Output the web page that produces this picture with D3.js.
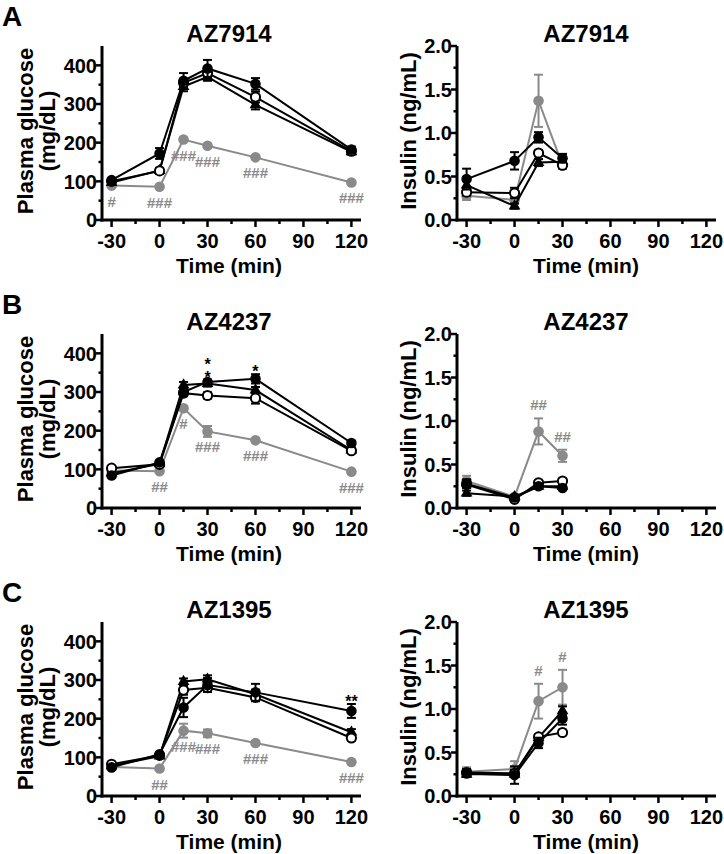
<!DOCTYPE html>
<html><head><meta charset="utf-8">
<script src="https://cdn.jsdelivr.net/npm/d3@7"></script>
<style>
body{margin:0;background:#fff}
svg{display:block}
text{font-family:"Liberation Sans",Arial,Helvetica,sans-serif;font-weight:bold;fill:#000}
</style>
</head><body><svg id="c" width="724" height="854"></svg>
<script>
// ---------- data ----------
const timesGlucose = [-30, 0, 15, 30, 60, 120];
const timesInsulin = [-30, 0, 15, 30];
const xTicks = [-30, 0, 30, 60, 90, 120];
const xMinorTicks = [-15, 15, 45, 75, 105];
const glucoseTicks = [0, 100, 200, 300, 400];
const glucoseMinorTicks = [50, 150, 250, 350];
const insulinTicks = [0, 0.5, 1.0, 1.5, 2.0];
const insulinMinorTicks = [0.25, 0.75, 1.25, 1.75];
const panelLetters = ["A", "B", "C"];
const compounds = ["AZ7914", "AZ4237", "AZ1395"];
const seriesNames = ["gray", "tri", "open", "filled"];

// glucose (mg/dL)  [A, B, C]
const glucoseFilled = [[103,172,360,392,352,182],[84,118,300,326,334,168],[74,108,229,287,268,220]];
const glucoseFilledErr = [[5,14,20,22,15,8],[5,5,10,6,12,6],[4,4,25,18,22,18]];
const glucoseOpen = [[100,127,355,380,318,178],[103,113,297,291,284,148],[82,105,274,280,255,150]];
const glucoseOpenErr = [[4,8,10,10,14,8],[4,5,8,8,14,6],[4,4,12,10,10,6]];
const glucoseTri = [[97,128,345,370,298,176],[90,114,318,322,305,150],[78,103,296,302,263,165]];
const glucoseTriErr = [[4,6,12,10,12,6],[4,4,8,8,8,6],[4,4,8,10,12,8]];
const glucoseGray = [[89,86,208,192,162,97],[97,95,258,198,175,94],[75,71,169,162,137,88]];
const glucoseGrayErr = [[3,3,5,5,4,3],[3,4,6,14,5,4],[3,3,18,10,5,3]];

// insulin (ng/mL)  [A, B, C]
const insulinFilled = [[0.47,0.68,0.95,0.71],[0.28,0.12,0.25,0.23],[0.26,0.24,0.61,0.89]];
const insulinFilledErr = [[0.12,0.10,0.06,0.05],[0.05,0.02,0.03,0.02],[0.04,0.10,0.06,0.07]];
const insulinOpen = [[0.32,0.31,0.77,0.63],[0.27,0.10,0.29,0.31],[0.27,0.26,0.68,0.73]];
const insulinOpenErr = [[0.04,0.06,0.03,0.04],[0.04,0.02,0.02,0.02],[0.04,0.04,0.03,0.03]];
const insulinTri = [[0.40,0.16,0.66,0.67],[0.17,0.13,0.25,0.25],[0.25,0.25,0.67,0.98]];
const insulinTriErr = [[0.05,0.03,0.04,0.04],[0.03,0.02,0.02,0.02],[0.03,0.03,0.03,0.05]];
const insulinGray = [[0.28,0.23,1.37,0.63],[0.31,0.13,0.88,0.60],[0.28,0.31,1.09,1.25]];
const insulinGrayErr = [[0.05,0.04,0.30,0.03],[0.06,0.02,0.15,0.07],[0.05,0.09,0.20,0.20]];

// significance annotations: [panelIndex, time, text]
const glucoseHashes = [
  [0,-30,"#"],[0,0,"###"],[0,15,"###"],[0,30,"###"],[0,60,"###"],[0,120,"###"],
  [1,0,"##"],[1,15,"#"],[1,30,"###"],[1,60,"###"],[1,120,"###"],
  [2,0,"##"],[2,15,"###"],[2,30,"###"],[2,60,"###"],[2,120,"###"]
];
// stars: [panelIndex, time, lines of stars stacked vertically]
const glucoseStars = [[1,30,["*","*"]],[1,60,["*"]],[2,120,["**"]]];
const insulinHashes = [[1,15,"##"],[1,30,"##"],[2,15,"#"],[2,30,"#"]];

// ---------- drawing ----------
const svg = d3.select("#c");
const GRAY = "#8a8a8a";
const rowBase = [220, 508, 796];
const plotH = 174;
const leftX = [102, 361], rightX = [457, 716];
const xDomain = [-36, 126];

function drawAxes(g, x, y, yTicks, yMinor, fmt) {
  const x0 = x.range()[0], x1 = x.range()[1];
  const y0 = y.range()[0], y1 = y.range()[1];
  g.append("line").attr("x1", x0-1.5).attr("x2", x1).attr("y1", y0).attr("y2", y0)
    .attr("stroke","#000").attr("stroke-width",3);
  g.append("line").attr("x1", x0).attr("x2", x0).attr("y1", y0+1.5).attr("y2", y1)
    .attr("stroke","#000").attr("stroke-width",3);
  xTicks.forEach(t => {
    g.append("line").attr("x1", x(t)).attr("x2", x(t)).attr("y1", y0).attr("y2", y0+7)
      .attr("stroke","#000").attr("stroke-width",2.5);
    g.append("text").attr("x", x(t)).attr("y", y0+28).attr("text-anchor","middle")
      .attr("font-size", 20).text(t);
  });
  xMinorTicks.forEach(t => {
    g.append("line").attr("x1", x(t)).attr("x2", x(t)).attr("y1", y0).attr("y2", y0+4)
      .attr("stroke","#000").attr("stroke-width",2.5);
  });
  yTicks.forEach(v => {
    g.append("line").attr("x1", x0-6).attr("x2", x0).attr("y1", y(v)).attr("y2", y(v))
      .attr("stroke","#000").attr("stroke-width",2.5);
    g.append("text").attr("x", x0-5).attr("y", y(v)).attr("dy","0.36em")
      .attr("text-anchor","end").attr("font-size", 20).text(fmt(v));
  });
  yMinor.forEach(v => {
    g.append("line").attr("x1", x0-3.5).attr("x2", x0).attr("y1", y(v)).attr("y2", y(v))
      .attr("stroke","#000").attr("stroke-width",2.5);
  });
}

function drawSeries(g, x, y, times, vals, errs, kind) {
  const color = kind === "gray" ? GRAY : "#000";
  const pts = times.map((t,i) => ({t, v: vals[i], e: errs[i]}));
  pts.forEach(p => {
    g.append("line").attr("x1", x(p.t)).attr("x2", x(p.t))
      .attr("y1", y(p.v - p.e)).attr("y2", y(p.v + p.e))
      .attr("stroke", color).attr("stroke-width", 2);
    [p.v - p.e, p.v + p.e].forEach(ev => {
      g.append("line").attr("x1", x(p.t)-4.5).attr("x2", x(p.t)+4.5)
        .attr("y1", y(ev)).attr("y2", y(ev)).attr("stroke", color).attr("stroke-width", 2);
    });
  });
  g.append("path").datum(pts)
    .attr("d", d3.line().x(d => x(d.t)).y(d => y(d.v)))
    .attr("fill","none").attr("stroke", color).attr("stroke-width", 2);
  pts.forEach(p => {
    if (kind === "tri") {
      g.append("path").attr("d", d3.symbol(d3.symbolTriangle, 60)())
        .attr("transform", `translate(${x(p.t)},${y(p.v)})`).attr("fill","#000");
    } else if (kind === "open") {
      g.append("circle").attr("cx", x(p.t)).attr("cy", y(p.v)).attr("r", 4.6)
        .attr("fill","#fff").attr("stroke","#000").attr("stroke-width",2);
    } else {
      g.append("circle").attr("cx", x(p.t)).attr("cy", y(p.v)).attr("r", 5.3)
        .attr("fill", color);
    }
  });
}

for (let r = 0; r < 3; r++) {
  const base = rowBase[r];
  svg.append("text").attr("x", 2).attr("y", base - 194).attr("font-size", 28).text(panelLetters[r]);

  // ----- glucose panel -----
  const gL = svg.append("g");
  const xL = d3.scaleLinear().domain(xDomain).range(leftX);
  const yL = d3.scaleLinear().domain([0, 450]).range([base, base - plotH]);
  drawAxes(gL, xL, yL, glucoseTicks, glucoseMinorTicks, d3.format("d"));
  const gSets = {
    gray: [glucoseGray[r], glucoseGrayErr[r]],
    tri: [glucoseTri[r], glucoseTriErr[r]],
    open: [glucoseOpen[r], glucoseOpenErr[r]],
    filled: [glucoseFilled[r], glucoseFilledErr[r]]
  };
  seriesNames.forEach(k => drawSeries(gL, xL, yL, timesGlucose, gSets[k][0], gSets[k][1], k));
  gL.append("text").attr("x", 229).attr("y", base - 178).attr("text-anchor","middle")
    .attr("font-size", 24).text(compounds[r]);
  gL.append("text").attr("x", 229).attr("y", base + 53).attr("text-anchor","middle")
    .attr("font-size", 21).text("Time (min)");
  const cyL = base - 89;
  gL.append("text").attr("transform", `translate(33,${cyL}) rotate(-90)`)
    .attr("text-anchor","middle").attr("font-size", 22).text("Plasma glucose");
  gL.append("text").attr("transform", `translate(55,${cyL}) rotate(-90)`)
    .attr("text-anchor","middle").attr("font-size", 22).text("(mg/dL)");

  glucoseHashes.filter(h => h[0] === r).forEach(h => {
    const i = timesGlucose.indexOf(h[1]);
    gL.append("text").attr("x", xL(h[1])).attr("y", yL(glucoseGray[r][i]) + 21)
      .attr("text-anchor","middle").attr("font-size", 15).attr("font-weight","normal")
      .style("fill", GRAY).text(h[2]);
  });
  glucoseStars.filter(s => s[0] === r).forEach(s => {
    const i = timesGlucose.indexOf(s[1]);
    const top = yL(glucoseFilled[r][i] + glucoseFilledErr[r][i]);
    const n = s[2].length;
    s[2].forEach((str, k) => {
      gL.append("text").attr("x", xL(s[1])).attr("y", top + 3 - (n - 1 - k) * 13)
        .attr("text-anchor","middle").attr("font-size", 16).attr("font-weight","normal")
        .text(str);
    });
  });

  // ----- insulin panel -----
  const gR = svg.append("g");
  const xR = d3.scaleLinear().domain(xDomain).range(rightX);
  const yR = d3.scaleLinear().domain([0, 2.0]).range([base, base - plotH]);
  drawAxes(gR, xR, yR, insulinTicks, insulinMinorTicks, d3.format(".1f"));
  const iSets = {
    gray: [insulinGray[r], insulinGrayErr[r]],
    tri: [insulinTri[r], insulinTriErr[r]],
    open: [insulinOpen[r], insulinOpenErr[r]],
    filled: [insulinFilled[r], insulinFilledErr[r]]
  };
  seriesNames.forEach(k => drawSeries(gR, xR, yR, timesInsulin, iSets[k][0], iSets[k][1], k));
  gR.append("text").attr("x", 586).attr("y", base - 178).attr("text-anchor","middle")
    .attr("font-size", 24).text(compounds[r]);
  gR.append("text").attr("x", 586).attr("y", base + 53).attr("text-anchor","middle")
    .attr("font-size", 21).text("Time (min)");
  gR.append("text").attr("transform", `translate(416,${base - 89}) rotate(-90)`)
    .attr("text-anchor","middle").attr("font-size", 22).text("Insulin (ng/mL)");

  insulinHashes.filter(h => h[0] === r).forEach(h => {
    const i = timesInsulin.indexOf(h[1]);
    gR.append("text").attr("x", xR(h[1])).attr("y", yR(insulinGray[r][i] + insulinGrayErr[r][i]) - 8)
      .attr("text-anchor","middle").attr("font-size", 15).attr("font-weight","normal")
      .style("fill", GRAY).text(h[2]);
  });
}
</script>
</body></html>
